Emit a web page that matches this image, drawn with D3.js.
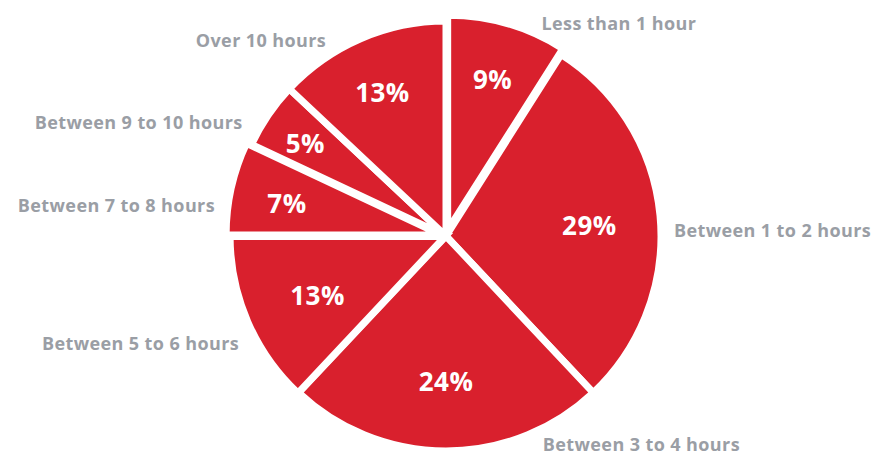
<!DOCTYPE html>
<html><head><meta charset="utf-8">
<script src="https://cdn.jsdelivr.net/npm/d3@7"></script>
<style>html,body{margin:0;padding:0;background:#fff;}svg{display:block;}</style>
</head><body>
<svg id="c" width="871" height="454"></svg>
<script>
const categories = ["Less than 1 hour","Between 1 to 2 hours","Between 3 to 4 hours","Between 5 to 6 hours","Between 7 to 8 hours","Between 9 to 10 hours","Over 10 hours"];
const values = [9, 29, 24, 13, 7, 5, 13];
const valueLabels = ["9%","29%","24%","13%","7%","5%","13%"];

// layout (not data)
const cx = 446, cy = 236, R = 215;
const explode = [6, 0, 0, 1, 5, 0, 0];
const pctRad = [167, 144, 142, 140, 163, 170, 160];
const labelShiftDeg = [8, 4, -25, -4, -5, -5, -8];
const labelRad = [233, 228, 229, 233, 233, 233, 230];

const svg = d3.select("#c");
const g = svg.append("g").attr("transform", `translate(${cx},${cy})`);
const pie = d3.pie().sort(null).value(d => d)(values);
const arc = d3.arc().innerRadius(0).outerRadius(R);
const mid = d => (d.startAngle + d.endAngle) / 2;

g.selectAll("path").data(pie).join("path")
  .attr("d", arc)
  .attr("transform", (d,i) => `translate(${explode[i]*Math.sin(mid(d))},${-explode[i]*Math.cos(mid(d))})`)
  .attr("fill", "#d9202d")
  .attr("stroke", "#fff")
  .attr("stroke-width", 7)
  .attr("stroke-linejoin", "miter");

g.selectAll("text.pct").data(pie).join("text")
  .attr("class","pct")
  .attr("x", (d,i) => pctRad[i] * Math.sin(mid(d)))
  .attr("y", (d,i) => -pctRad[i] * Math.cos(mid(d)) + 3)
  .attr("text-anchor","middle").attr("dominant-baseline","central")
  .attr("font-family","'Open Sans', sans-serif").attr("font-weight",700)
  .attr("font-size",26).attr("letter-spacing",0.5).attr("fill","#fff")
  .text((d,i) => valueLabels[i]);

g.selectAll("text.lab").data(pie).join("text")
  .attr("class","lab")
  .each(function(d,i){
    const a = mid(d) + labelShiftDeg[i] * Math.PI/180;
    const x = labelRad[i] * Math.sin(a), y = -labelRad[i] * Math.cos(a);
    d3.select(this).attr("x", x).attr("y", y)
      .attr("text-anchor", x >= 0 ? "start" : "end");
  })
  .attr("dominant-baseline","central")
  .attr("font-family","'Open Sans', sans-serif").attr("font-weight",700)
  .attr("font-size",18).attr("letter-spacing",0.4).attr("fill","#9a9ea5")
  .text((d,i) => categories[i]);
</script>
</body></html>
